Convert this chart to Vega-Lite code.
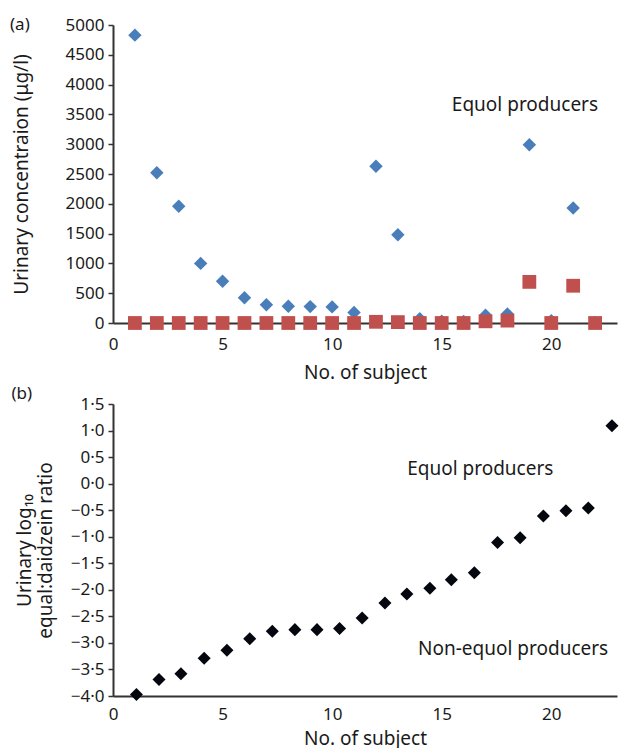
{
  "$schema": "https://vega.github.io/schema/vega-lite/v6.json",
  "padding": {"left": 10, "top": 16, "right": 2, "bottom": 0},
  "spacing": 2,
  "config": {
    "font": "Noto Sans",
    "view": {"stroke": null},
    "axis": {
      "grid": false,
      "domainColor": "#333333",
      "domainWidth": 2,
      "tickColor": "#333333",
      "tickWidth": 1.5,
      "labelFont": "Noto Sans",
      "labelFontSize": 17,
      "labelColor": "#1a1a1a",
      "labelOverlap": false,
      "titleFont": "Noto Sans",
      "titleFontSize": 19,
      "titleFontWeight": "normal",
      "titleColor": "#1a1a1a"
    }
  },
  "datasets": {
    "panelA": [
      {"subject": 1, "series": "Daidzein", "value": 4830},
      {"subject": 2, "series": "Daidzein", "value": 2520},
      {"subject": 3, "series": "Daidzein", "value": 1960},
      {"subject": 4, "series": "Daidzein", "value": 1000},
      {"subject": 5, "series": "Daidzein", "value": 700},
      {"subject": 6, "series": "Daidzein", "value": 425},
      {"subject": 7, "series": "Daidzein", "value": 305},
      {"subject": 8, "series": "Daidzein", "value": 280},
      {"subject": 9, "series": "Daidzein", "value": 275},
      {"subject": 10, "series": "Daidzein", "value": 270},
      {"subject": 11, "series": "Daidzein", "value": 175},
      {"subject": 12, "series": "Daidzein", "value": 2630},
      {"subject": 13, "series": "Daidzein", "value": 1480},
      {"subject": 14, "series": "Daidzein", "value": 70},
      {"subject": 15, "series": "Daidzein", "value": 30},
      {"subject": 16, "series": "Daidzein", "value": 25},
      {"subject": 17, "series": "Daidzein", "value": 130},
      {"subject": 18, "series": "Daidzein", "value": 150},
      {"subject": 19, "series": "Daidzein", "value": 2990},
      {"subject": 20, "series": "Daidzein", "value": 40},
      {"subject": 21, "series": "Daidzein", "value": 1930},
      {"subject": 22, "series": "Daidzein", "value": 10},
      {"subject": 1, "series": "Equol", "value": 0},
      {"subject": 2, "series": "Equol", "value": 0},
      {"subject": 3, "series": "Equol", "value": 0},
      {"subject": 4, "series": "Equol", "value": 0},
      {"subject": 5, "series": "Equol", "value": 0},
      {"subject": 6, "series": "Equol", "value": 0},
      {"subject": 7, "series": "Equol", "value": 0},
      {"subject": 8, "series": "Equol", "value": 0},
      {"subject": 9, "series": "Equol", "value": 0},
      {"subject": 10, "series": "Equol", "value": 0},
      {"subject": 11, "series": "Equol", "value": 0},
      {"subject": 12, "series": "Equol", "value": 20},
      {"subject": 13, "series": "Equol", "value": 15},
      {"subject": 14, "series": "Equol", "value": 0},
      {"subject": 15, "series": "Equol", "value": 0},
      {"subject": 16, "series": "Equol", "value": 0},
      {"subject": 17, "series": "Equol", "value": 28},
      {"subject": 18, "series": "Equol", "value": 40},
      {"subject": 19, "series": "Equol", "value": 690},
      {"subject": 20, "series": "Equol", "value": 0},
      {"subject": 21, "series": "Equol", "value": 625},
      {"subject": 22, "series": "Equol", "value": 0}
    ],
    "panelB": [
      {"subject": 1.07, "ratio": -3.97},
      {"subject": 2.1, "ratio": -3.69},
      {"subject": 3.1, "ratio": -3.58},
      {"subject": 4.16, "ratio": -3.29},
      {"subject": 5.2, "ratio": -3.14},
      {"subject": 6.24, "ratio": -2.92},
      {"subject": 7.27, "ratio": -2.78},
      {"subject": 8.3, "ratio": -2.75},
      {"subject": 9.31, "ratio": -2.75},
      {"subject": 10.34, "ratio": -2.73},
      {"subject": 11.37, "ratio": -2.53},
      {"subject": 12.41, "ratio": -2.25},
      {"subject": 13.41, "ratio": -2.08},
      {"subject": 14.46, "ratio": -1.97},
      {"subject": 15.44, "ratio": -1.81},
      {"subject": 16.49, "ratio": -1.68},
      {"subject": 17.55, "ratio": -1.11},
      {"subject": 18.58, "ratio": -1.02},
      {"subject": 19.64, "ratio": -0.61},
      {"subject": 20.67, "ratio": -0.51},
      {"subject": 21.69, "ratio": -0.46},
      {"subject": 22.77, "ratio": 1.09}
    ],
    "one": [{}]
  },
  "vconcat": [
    {
      "width": 504,
      "height": 298,
      "layer": [
        {
          "data": {"name": "panelA"},
          "transform": [{"filter": "datum.series === 'Daidzein'"}],
          "mark": {"type": "point", "shape": "diamond", "filled": true, "size": 180, "opacity": 1, "color": "#4a7ebb", "clip": false},
          "encoding": {
            "x": {"field": "subject", "type": "quantitative", "scale": {"domain": [0, 23], "nice": false, "zero": false},
              "axis": {"values": [0, 5, 10, 15, 20], "title": "No. of subject", "ticks": false, "labelPadding": 13, "titlePadding": 11, "labelFlush": false, "labelOverlap": false}},
            "y": {"field": "value", "type": "quantitative", "scale": {"domain": [0, 5000], "nice": false},
              "axis": {"values": [0, 500, 1000, 1500, 2000, 2500, 3000, 3500, 4000, 4500, 5000], "format": "d", "title": "Urinary concentraion (μg/l)", "tickSize": 5, "labelPadding": 4, "titlePadding": 34, "labelOverlap": false}}
          }
        },
        {
          "data": {"name": "panelA"},
          "transform": [{"filter": "datum.series === 'Equol'"}],
          "mark": {"type": "point", "shape": "square", "filled": true, "size": 190, "opacity": 1, "color": "#c0504d", "clip": false},
          "encoding": {
            "x": {"field": "subject", "type": "quantitative",
              "axis": {"values": [0, 5, 10, 15, 20], "title": "No. of subject", "ticks": false, "labelPadding": 13, "titlePadding": 11, "labelFlush": false, "labelOverlap": false}},
            "y": {"field": "value", "type": "quantitative",
              "axis": {"values": [0, 500, 1000, 1500, 2000, 2500, 3000, 3500, 4000, 4500, 5000], "format": "d", "title": "Urinary concentraion (μg/l)", "tickSize": 5, "labelPadding": 4, "titlePadding": 34, "labelOverlap": false}}
          }
        },
        {
          "data": {"name": "one"},
          "mark": {"type": "text", "text": "Equol producers", "fontSize": 19, "font": "Noto Sans", "color": "#1a1a1a", "align": "center", "baseline": "middle"},
          "encoding": {
            "x": {"datum": 18.8, "type": "quantitative", "axis": {"values": [0, 5, 10, 15, 20], "title": "No. of subject", "ticks": false, "labelPadding": 13, "titlePadding": 11, "labelFlush": false, "labelOverlap": false}},
            "y": {"datum": 3660, "type": "quantitative", "axis": {"values": [0, 500, 1000, 1500, 2000, 2500, 3000, 3500, 4000, 4500, 5000], "format": "d", "title": "Urinary concentraion (μg/l)", "tickSize": 5, "labelPadding": 4, "titlePadding": 34, "labelOverlap": false}}
          }
        },
        {
          "data": {"name": "one"},
          "mark": {"type": "text", "text": "(a)", "fontSize": 17, "font": "Noto Sans", "color": "#1a1a1a", "align": "center", "baseline": "middle"},
          "encoding": {
            "x": {"datum": -4.25, "type": "quantitative", "axis": {"values": [0, 5, 10, 15, 20], "title": "No. of subject", "ticks": false, "labelPadding": 13, "titlePadding": 11, "labelFlush": false, "labelOverlap": false}},
            "y": {"datum": 5000, "type": "quantitative", "axis": {"values": [0, 500, 1000, 1500, 2000, 2500, 3000, 3500, 4000, 4500, 5000], "format": "d", "title": "Urinary concentraion (μg/l)", "tickSize": 5, "labelPadding": 4, "titlePadding": 34, "labelOverlap": false}}
          }
        }
      ]
    },
    {
      "width": 504,
      "height": 292,
      "layer": [
        {
          "data": {"name": "panelB"},
          "mark": {"type": "point", "shape": "diamond", "filled": true, "size": 170, "opacity": 1, "color": "#05070f", "clip": false},
          "encoding": {
            "x": {"field": "subject", "type": "quantitative", "scale": {"domain": [0, 23], "nice": false, "zero": false},
              "axis": {"values": [0, 5, 10, 15, 20], "title": "No. of subject", "ticks": false, "labelPadding": 10, "titlePadding": 7, "labelFlush": false, "labelOverlap": false}},
            "y": {"field": "ratio", "type": "quantitative", "scale": {"domain": [-4, 1.5], "nice": false, "zero": false},
              "axis": {"values": [-4, -3.5, -3, -2.5, -2, -1.5, -1, -0.5, 0, 0.5, 1, 1.5], "labelExpr": "replace(format(datum.value, '.1f'), '.', '·')", "title": ["Urinary log₁₀", "equal:daidzein ratio"], "titleLineHeight": 21, "tickSize": 5, "labelPadding": 4, "titlePadding": 15, "labelOverlap": false}}
          }
        },
        {
          "data": {"name": "one"},
          "mark": {"type": "text", "text": "Equol producers", "fontSize": 19, "font": "Noto Sans", "color": "#1a1a1a", "align": "center", "baseline": "middle"},
          "encoding": {
            "x": {"datum": 16.76, "type": "quantitative", "axis": {"values": [0, 5, 10, 15, 20], "title": "No. of subject", "ticks": false, "labelPadding": 10, "titlePadding": 7, "labelFlush": false, "labelOverlap": false}},
            "y": {"datum": 0.27, "type": "quantitative", "axis": {"values": [-4, -3.5, -3, -2.5, -2, -1.5, -1, -0.5, 0, 0.5, 1, 1.5], "labelExpr": "replace(format(datum.value, '.1f'), '.', '·')", "title": ["Urinary log₁₀", "equal:daidzein ratio"], "titleLineHeight": 21, "tickSize": 5, "labelPadding": 4, "titlePadding": 15, "labelOverlap": false}}
          }
        },
        {
          "data": {"name": "one"},
          "mark": {"type": "text", "text": "Non-equol producers", "fontSize": 19, "font": "Noto Sans", "color": "#1a1a1a", "align": "center", "baseline": "middle"},
          "encoding": {
            "x": {"datum": 18.26, "type": "quantitative", "axis": {"values": [0, 5, 10, 15, 20], "title": "No. of subject", "ticks": false, "labelPadding": 10, "titlePadding": 7, "labelFlush": false, "labelOverlap": false}},
            "y": {"datum": -3.12, "type": "quantitative", "axis": {"values": [-4, -3.5, -3, -2.5, -2, -1.5, -1, -0.5, 0, 0.5, 1, 1.5], "labelExpr": "replace(format(datum.value, '.1f'), '.', '·')", "title": ["Urinary log₁₀", "equal:daidzein ratio"], "titleLineHeight": 21, "tickSize": 5, "labelPadding": 4, "titlePadding": 15, "labelOverlap": false}}
          }
        },
        {
          "data": {"name": "one"},
          "mark": {"type": "text", "text": "(b)", "fontSize": 17, "font": "Noto Sans", "color": "#1a1a1a", "align": "center", "baseline": "middle"},
          "encoding": {
            "x": {"datum": -4.16, "type": "quantitative", "axis": {"values": [0, 5, 10, 15, 20], "title": "No. of subject", "ticks": false, "labelPadding": 10, "titlePadding": 7, "labelFlush": false, "labelOverlap": false}},
            "y": {"datum": 1.69, "type": "quantitative", "axis": {"values": [-4, -3.5, -3, -2.5, -2, -1.5, -1, -0.5, 0, 0.5, 1, 1.5], "labelExpr": "replace(format(datum.value, '.1f'), '.', '·')", "title": ["Urinary log₁₀", "equal:daidzein ratio"], "titleLineHeight": 21, "tickSize": 5, "labelPadding": 4, "titlePadding": 15, "labelOverlap": false}}
          }
        }
      ]
    }
  ]
}
